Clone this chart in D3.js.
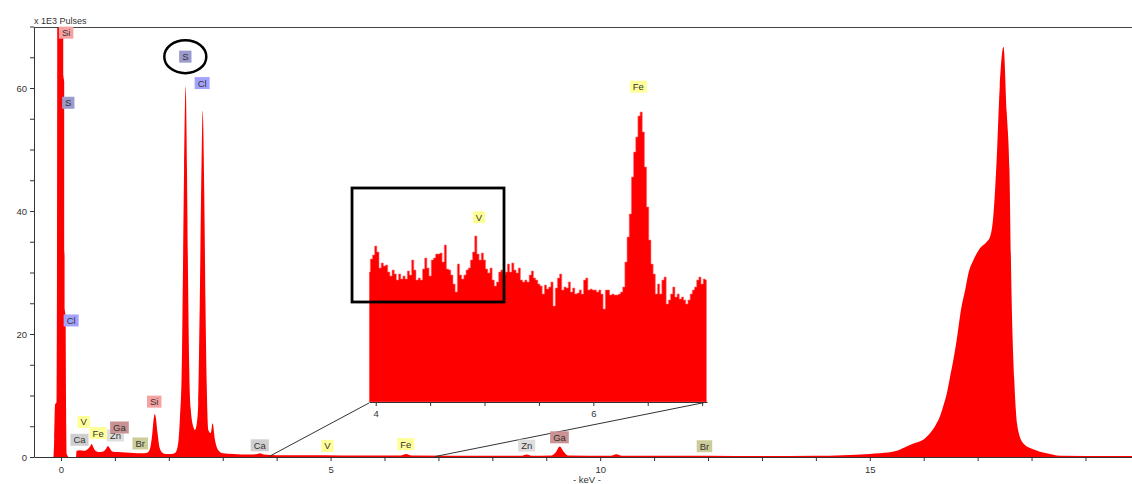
<!DOCTYPE html>
<html>
<head>
<meta charset="utf-8">
<script src="https://cdn.jsdelivr.net/npm/d3@7/dist/d3.min.js"></script>
<style>
  body { margin: 0; background: #fff; }
  svg { display: block; font-family: "Liberation Sans", Arial, sans-serif; }
</style>
</head>
<body>
<svg id="chart" width="1132" height="484"></svg>
<script>

// main spectrum, energy (keV) against x 1E3 pulses
var specKeV = [-0.5, -0.14, -0.125, -0.11, -0.08, -0.074, -0.06, 0.03, 0.045, 0.06, 0.07, 0.085, 0.095, 0.105, 0.15,
    0.28, 0.29, 0.35, 0.42, 0.5, 0.54, 0.57, 0.6, 0.64, 0.7, 0.78, 0.84, 0.87, 0.9, 0.95, 1.05, 1.2, 1.35, 1.5,
    1.6, 1.65, 1.69, 1.72, 1.74, 1.76, 1.79, 1.83, 1.88, 1.95, 2.05, 2.12, 2.17,
    2.207, 2.239, 2.262, 2.283, 2.313, 2.337, 2.356, 2.378, 2.405, 2.454, 2.485, 2.52,
    2.546, 2.574, 2.605, 2.628, 2.656, 2.68, 2.704, 2.732, 2.776, 2.813, 2.856, 2.917, 3.004,
    3.2, 3.5, 3.62, 3.69, 3.76, 4.0, 4.9, 5.5, 6.3, 6.4, 6.5, 8.0, 8.55, 8.64, 8.72,
    9.1, 9.18, 9.25, 9.32, 9.4, 10.2, 10.3, 10.4, 12.0, 13.0, 14.0, 14.5, 15.0,
    15.19, 15.5, 15.68, 15.81, 15.99, 16.12, 16.24, 16.3, 16.36, 16.43, 16.49, 16.55, 16.61,
    16.7, 16.77, 16.83, 16.92, 17.04, 17.17, 17.23, 17.29, 17.35, 17.41, 17.48, 17.54, 17.59,
    17.63, 17.68, 17.75, 17.85, 18.03, 18.28, 18.53, 19.5, 20.0];
var specPulses = [0, 0, 3, 8.5, 9, 30, 140, 140, 62, 61, 24, 23, 8, 0.5, 0,
    0, 1.0, 1.1, 1.0, 1.3, 1.7, 2.1, 1.6, 1.0, 0.8, 0.9, 1.4, 1.8, 1.5, 0.9, 0.8, 0.75, 0.65, 0.6,
    0.7, 1.3, 3.5, 6.2, 7.0, 6.4, 4.0, 1.5, 0.7, 0.5, 0.5, 0.7, 2.0,
    6.5, 14, 30, 46.7, 60.3, 46.7, 30, 15, 8, 4.9, 4.4, 5.5,
    8.8, 25, 46.7, 56.3, 43.9, 25, 11.4, 4.4, 3.9, 5.5, 2.8, 1.1, 0.6,
    0.5, 0.4, 0.45, 0.6, 0.4, 0.3, 0.3, 0.25, 0.25, 0.5, 0.25, 0.2, 0.2, 0.4, 0.2,
    0.25, 0.8, 1.7, 0.9, 0.25, 0.2, 0.45, 0.2, 0.2, 0.15, 0.2, 0.3, 0.5,
    0.6, 1.0, 1.7, 2.2, 2.8, 3.9, 5.5, 6.6, 8.2, 10.4, 13.1, 15.8, 19.0,
    24.4, 27.2, 29.9, 32.0, 33.9, 35.0, 35.8, 39.1, 47.8, 60.2, 66.7, 56, 46.7,
    26, 12.5, 4.4, 2.2, 1.25, 0.6, 0.2, 0.15, 0.15];

// inset: 3.94 - 7.04 keV in 0.02 keV channels (pulses)
var insetStartKeV = 3.94;
var insetStepKeV = 0.02;
var insetPulses = [130, 143, 147, 156, 150, 134, 139, 136, 137, 130,
    126, 132, 128, 122, 128, 123, 126, 123, 131, 127,
    142, 132, 122, 124, 122, 133, 144, 134, 126, 142,
    144, 148, 148, 149, 140, 157, 133, 132, 127, 118,
    110, 138, 127, 123, 127, 132, 134, 142, 150, 166,
    148, 142, 149, 142, 133, 129, 134, 122, 116, 120,
    130, 132, 127, 130, 138, 130, 139, 132, 129, 134,
    122, 120, 122, 120, 127, 131, 124, 122, 118, 116,
    108, 117, 113, 115, 120, 96, 114, 124, 128, 112,
    115, 114, 120, 110, 114, 108, 109, 112, 108, 122,
    124, 112, 113, 112, 112, 110, 112, 108, 93, 112,
    112, 107, 108, 107, 107, 108, 110, 115, 140, 165,
    188, 225, 250, 265, 286, 290, 270, 235, 195, 162,
    138, 128, 108, 118, 108, 122, 125, 98, 102, 108,
    115, 105, 108, 103, 105, 102, 98, 102, 108, 112,
    115, 122, 125, 118, 123, 122];

// element tags on the main spectrum
var tagNames = ["Si", "S", "Cl", "S", "Cl", "Si", "V", "Ca", "Fe", "Zn", "Ga", "Br", "Ca", "V", "Fe", "Zn", "Ga", "Br"];
var tagKeV = [0.096, 0.136, 0.189, 2.306, 2.618, 1.73, 0.42, 0.343, 0.69, 1.01, 1.085, 1.47, 3.687, 4.943, 6.395, 8.637, 9.245, 11.934];
var tagPulses = [69.0, 57.6, 22.2, 65.1, 60.8, 9.0, 5.7, 2.8, 3.9, 3.5, 4.8, 2.2, 1.9, 1.8, 2.1, 1.85, 3.2, 1.75];

// element tags in the inset
var insetTagNames = ["V", "Fe"];
var insetTagKeV = [4.949, 6.414];
var insetTagPulses = [184.8, 315.3];

// zoomed stretch of the main axis and the box marked in the inset
var zoomKeV = [3.86, 6.94];
var markKeV = [3.782, 5.179];
var markPulses = [100, 214];

var xTicks = [0, 1, 2, 3, 4, 5, 6, 7, 8, 9, 10, 11, 12, 13, 14, 15, 16, 17, 18, 19];
var yTicks = [0, 5, 10, 15, 20, 25, 30, 35, 40, 45, 50, 55, 60, 65, 70];
var insetTicks = [4, 4.5, 5, 5.5, 6, 6.5, 7];

var tagColors = {
    Si: "#f6a2a2", S: "#9a9acc", Cl: "#a3a3ff", V: "#ffff99", Fe: "#ffff99",
    Ca: "#cfcfcf", Zn: "#dedede", Ga: "#c99393", Br: "#cccc99"
};

var svg = d3.select("#chart");

var x = d3.scaleLinear().domain([-0.5, 20]).range([34, 1139.4]);
var y = d3.scaleLinear().domain([0, 70]).range([457, 26.5]);

svg.append("defs").append("clipPath").attr("id", "plotClip")
    .append("rect").attr("x", 34).attr("y", 27).attr("width", 1100).attr("height", 430);

// spectrum
svg.append("path")
    .datum(specKeV)
    .attr("clip-path", "url(#plotClip)")
    .attr("fill", "#ff0000")
    .attr("d", d3.area()
        .curve(d3.curveMonotoneX)
        .x(function (d) { return x(d); })
        .y0(y(0))
        .y1(function (d, i) { return y(specPulses[i]); }));

// axes
var xAxis = svg.append("g").attr("transform", "translate(0,457)")
    .call(d3.axisBottom(x).tickValues(xTicks).tickSize(4).tickSizeOuter(0).tickPadding(5)
        .tickFormat(function (d) { return d % 5 === 0 ? d : ""; }));
var yAxis = svg.append("g").attr("transform", "translate(34,0)")
    .call(d3.axisLeft(y).tickValues(yTicks).tickSize(4).tickSizeOuter(0).tickPadding(3)
        .tickFormat(function (d) { return d % 20 === 0 ? d : ""; }));

[xAxis, yAxis].forEach(function (a) {
    a.selectAll("path, line").attr("stroke", "#333");
    a.selectAll("text").attr("fill", "#333").style("font-size", "9.5px").style("font-family", "Liberation Sans, Arial, sans-serif");
});

svg.append("line")
    .attr("x1", 34).attr("x2", 1132).attr("y1", 27.5).attr("y2", 27.5)
    .attr("stroke", "#444");

svg.append("text").attr("x", 34).attr("y", 23.5)
    .attr("fill", "#333").style("font-size", "9px").text("x 1E3 Pulses");

svg.append("text").attr("x", 587).attr("y", 482.5).attr("text-anchor", "middle")
    .attr("fill", "#333").style("font-size", "9.5px").text("- keV -");

// inset
var ix = d3.scaleLinear().domain([3.938, 7.045]).range([369, 707]);
var iy = d3.scaleLinear().domain([0, 300]).range([402, 102]);

svg.append("defs").append("clipPath").attr("id", "insetClip")
    .append("rect").attr("x", 369).attr("y", 27).attr("width", 338).attr("height", 375);

// connectors from main axis to inset
svg.append("line")
    .attr("x1", x(zoomKeV[0])).attr("y1", 456.5).attr("x2", ix.range()[0]).attr("y2", 403)
    .attr("stroke", "#333");
svg.append("line")
    .attr("x1", x(zoomKeV[1])).attr("y1", 456.5).attr("x2", ix.range()[1]).attr("y2", 402)
    .attr("stroke", "#333");

svg.append("path")
    .datum(insetPulses)
    .attr("clip-path", "url(#insetClip)")
    .attr("fill", "#ff0000")
    .attr("stroke", "#ff7070")
    .attr("stroke-width", 0.6)
    .attr("d", d3.area()
        .curve(d3.curveStep)
        .x(function (d, i) { return ix(insetStartKeV + i * insetStepKeV); })
        .y0(iy(0))
        .y1(function (d) { return iy(d); }));

var insetAxis = svg.append("g").attr("transform", "translate(0,402)")
    .call(d3.axisBottom(ix).tickValues(insetTicks).tickSize(4).tickSizeOuter(0).tickPadding(4)
        .tickFormat(function (d) { return d % 2 === 0 ? d : ""; }));
insetAxis.selectAll("path, line").attr("stroke", "#333");
insetAxis.selectAll("text").attr("fill", "#333").style("font-size", "9.5px").style("font-family", "Liberation Sans, Arial, sans-serif");

// element tags
function addTag(cx, cy, name) {
    var g = svg.append("g").attr("transform", "translate(" + cx + "," + cy + ")");
    var r = g.append("rect");
    var t = g.append("text")
        .attr("text-anchor", "middle")
        .attr("y", 3.5)
        .attr("fill", "#333")
        .style("font-size", "9.5px")
        .text(name);
    var w = t.node().getComputedTextLength() + 6;
    r.attr("x", -w / 2).attr("y", -6).attr("width", w).attr("height", 12)
        .attr("fill", tagColors[name]);
}

tagNames.forEach(function (n, i) {
    addTag(x(tagKeV[i]), y(tagPulses[i]), n);
});
insetTagNames.forEach(function (n, i) {
    addTag(ix(insetTagKeV[i]), iy(insetTagPulses[i]), n);
});

// marked box in the inset and the ring round the S tag
svg.append("rect")
    .attr("x", ix(markKeV[0])).attr("y", iy(markPulses[1]))
    .attr("width", ix(markKeV[1]) - ix(markKeV[0]))
    .attr("height", iy(markPulses[0]) - iy(markPulses[1]))
    .attr("fill", "none").attr("stroke", "#000").attr("stroke-width", 2.8);

svg.append("ellipse")
    .attr("cx", x(tagKeV[3])).attr("cy", y(tagPulses[3]))
    .attr("rx", 21).attr("ry", 16.5)
    .attr("fill", "none").attr("stroke", "#000").attr("stroke-width", 2.5);

</script>
</body>
</html>
